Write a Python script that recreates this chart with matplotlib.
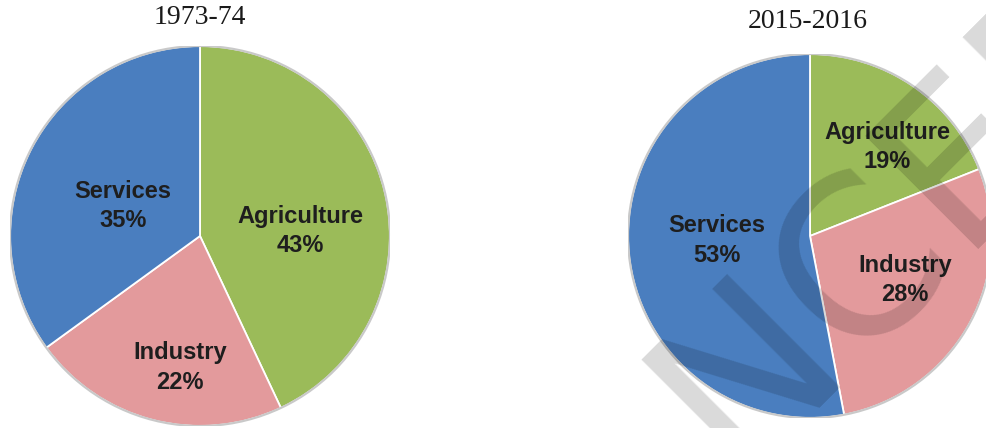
import matplotlib
matplotlib.use("Agg")
import matplotlib.pyplot as plt
from matplotlib.patches import Circle

W, H = 987, 428

sectors = ["Agriculture", "Industry", "Services"]
shares_1973 = [43, 22, 35]
shares_2015 = [19, 28, 53]
titles = ["1973-74", "2015-2016"]
colors = ["#9BBB59", "#E39A9C", "#4A7EBF"]

# label offsets (in pie-radius units) per sector
label_pos_1973 = {"Agriculture": (0.526, 0.026), "Industry": (-0.105, -0.69), "Services": (-0.405, 0.158)}
label_pos_2015 = {"Agriculture": (0.423, 0.489), "Industry": (0.522, -0.242), "Services": (-0.511, -0.027)}

fig = plt.figure(figsize=(W / 100, H / 100), dpi=100)

def make_axes(cx, cy, r):
    return fig.add_axes([(cx - r) / W, (H - cy - r) / H, 2 * r / W, 2 * r / H])

def draw(ax, values, lpos):
    ax.pie(values, colors=colors, startangle=90, counterclock=False, radius=1,
           wedgeprops=dict(edgecolor="white", linewidth=1.3))
    ax.add_patch(Circle((0, 0), 1.0, fill=False, edgecolor="#c9c9c9", linewidth=1.6, zorder=5))
    for name, v in zip(sectors, values):
        x, y = lpos[name]
        ax.text(x, y, f"{name}\n{v}%", ha="center", va="center", fontsize=17,
                fontweight="bold", family="Liberation Sans", color="#1e1e1e",
                linespacing=1.38, zorder=6)
    ax.set_xlim(-1, 1)
    ax.set_ylim(-1, 1)
    ax.set_aspect("equal")
    ax.axis("off")

ax1 = make_axes(200, 236, 190)
draw(ax1, shares_1973, label_pos_1973)
ax2 = make_axes(810, 236, 182)
draw(ax2, shares_2015, label_pos_2015)

fig.text(200 / W, 1 - 18 / H, titles[0], ha="center", va="center", fontsize=20,
         family="Liberation Serif", color="#1a1a1a")
fig.text(808 / W, 1 - 22 / H, titles[1], ha="center", va="center", fontsize=20,
         family="Liberation Serif", color="#1a1a1a")

# watermark
fig.text(948 / W, 1 - 173 / H, "NCERT", ha="center", va="center", fontsize=158,
         family="DejaVu Sans", rotation=45, color="black", alpha=0.15, zorder=10)

fig.savefig("out.png", dpi=100)
